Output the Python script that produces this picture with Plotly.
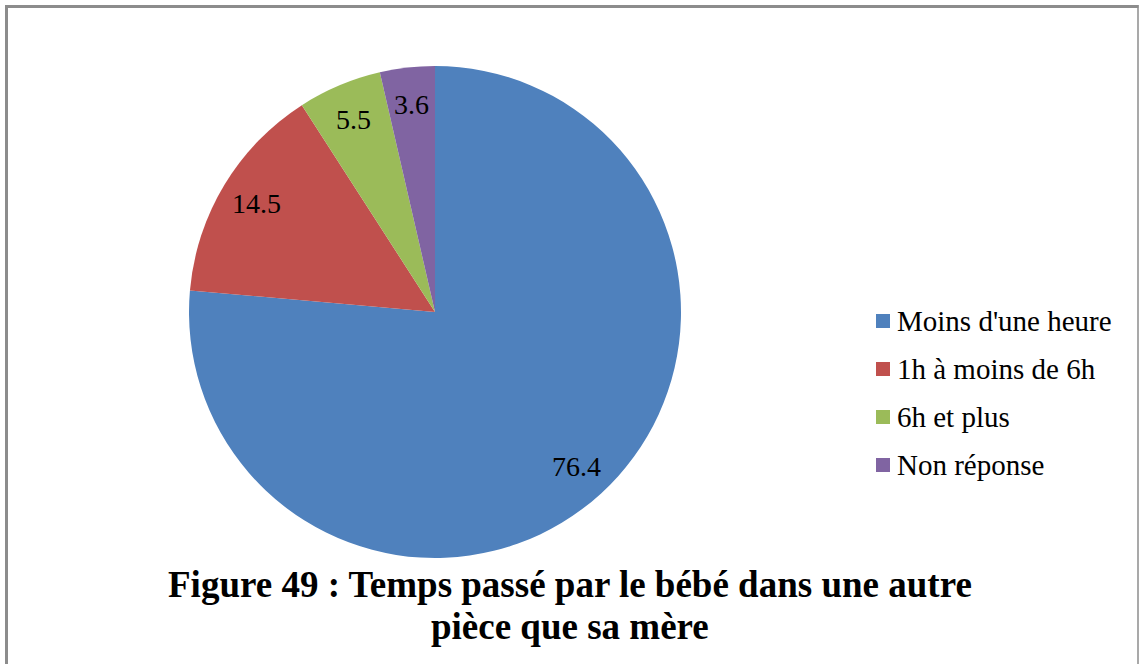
import math
import plotly.graph_objects as go

# Temps passé par le bébé dans une autre pièce que sa mère (%)
categories = ["Moins d'une heure", "1h à moins de 6h", "6h et plus", "Non réponse"]
values = [76.4, 14.5, 5.5, 3.6]
colors = ["#4F81BD", "#C0504D", "#9BBB59", "#8064A2"]
title_lines = ["Figure 49 : Temps passé par le bébé dans une autre", "pièce que sa mère"]

W, H = 1141, 664
SERIF = "Liberation Serif"

# pie placement in pixels
CX, CY, R = 435, 312, 246
dom_x = [(CX - R) / W, (CX + R) / W]
dom_y = [1 - (CY + R) / H, 1 - (CY - R) / H]

fig = go.Figure(
    go.Pie(
        labels=categories,
        values=values,
        marker=dict(colors=colors, line=dict(width=0)),
        sort=False,
        direction="clockwise",
        rotation=0,
        textinfo="none",
        hoverinfo="label+value",
        showlegend=False,
        domain=dict(x=dom_x, y=dom_y),
    )
)

annotations = []

# value labels placed at each slice's mid-angle
total = sum(values)
cum = 0.0
for v in values:
    mid = (cum + v / 2) / total * 2 * math.pi
    cum += v
    rr = R * 0.85
    px = CX + rr * math.sin(mid)
    py = CY - rr * math.cos(mid)
    annotations.append(dict(
        x=px / W, y=1 - py / H, xref="paper", yref="paper",
        text=f"{v:.1f}", showarrow=False,
        xanchor="center", yanchor="middle",
        font=dict(family=SERIF, size=28, color="#000000"),
    ))

# legend drawn as squares + labels
shapes = []
LEG_X, LEG_Y0, LEG_DY, SQ = 876, 321, 48, 14
for i, (lab, col) in enumerate(zip(categories, colors)):
    yc = LEG_Y0 + i * LEG_DY
    shapes.append(dict(
        type="rect", xref="paper", yref="paper",
        x0=LEG_X / W, x1=(LEG_X + SQ) / W,
        y0=1 - (yc + SQ / 2) / H, y1=1 - (yc - SQ / 2) / H,
        fillcolor=col, line=dict(width=0),
    ))
    annotations.append(dict(
        x=(LEG_X + SQ + 5) / W, y=1 - yc / H, xref="paper", yref="paper",
        text=lab, showarrow=False, xanchor="left", yanchor="middle",
        font=dict(family=SERIF, size=29, color="#000000"),
    ))

# caption below the pie
for j, line in enumerate(title_lines):
    yc = 584 + j * 42
    annotations.append(dict(
        x=570 / W, y=1 - yc / H, xref="paper", yref="paper",
        text=f"<b>{line}</b>", showarrow=False,
        xanchor="center", yanchor="middle",
        font=dict(family=SERIF, size=37, color="#000000"),
    ))

# chart frame
frame = "#8C8C8C"
shapes += [
    dict(type="line", xref="paper", yref="paper", x0=6.5 / W, x1=6.5 / W, y0=0, y1=1 - 5 / H,
         line=dict(color=frame, width=3)),
    dict(type="line", xref="paper", yref="paper", x0=5 / W, x1=1138.5 / W, y0=1 - 6.5 / H, y1=1 - 6.5 / H,
         line=dict(color=frame, width=3)),
    dict(type="line", xref="paper", yref="paper", x0=1138 / W, x1=1138 / W, y0=0, y1=1 - 5 / H,
         line=dict(color=frame, width=1.5)),
]

fig.update_layout(
    width=W, height=H,
    margin=dict(l=0, r=0, t=0, b=0),
    paper_bgcolor="#FFFFFF",
    plot_bgcolor="#FFFFFF",
    annotations=annotations,
    shapes=shapes,
    showlegend=False,
)

fig.write_html("out.html")
